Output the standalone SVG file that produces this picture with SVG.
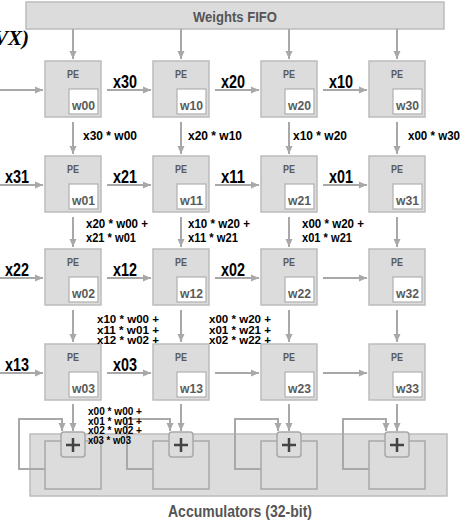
<svg xmlns="http://www.w3.org/2000/svg" width="465" height="521" viewBox="0 0 465 521">
<style>
.box{fill:#dcdcdc;stroke:#bcbcbc;stroke-width:1.5}
.inner{fill:#fff;stroke:#b0b0b0;stroke-width:1.2}
.pe{font-family:"Liberation Sans",Arial,sans-serif;font-weight:bold;font-size:11px;fill:#5a5a5a;text-anchor:middle}
.w{font-family:"Liberation Sans",Arial,sans-serif;font-weight:bold;font-size:13px;fill:#5a5a5a;text-anchor:middle}
.xl{font-family:"Liberation Sans",Arial,sans-serif;font-weight:bold;font-size:18px;fill:#000;text-anchor:middle}
.lb{font-family:"Liberation Sans",Arial,sans-serif;font-weight:bold;font-size:13px;fill:#000}
.lbt{font-family:"Liberation Sans",Arial,sans-serif;font-weight:bold;font-size:11px;fill:#000}
.lbs{font-family:"Liberation Sans",Arial,sans-serif;font-weight:bold;font-size:10px;fill:#000}
.ttl{font-family:"Liberation Sans",Arial,sans-serif;font-weight:bold;fill:#555;text-anchor:middle}
.ar{stroke:#a8a8a8;stroke-width:2;fill:none;marker-end:url(#ah)}
.plusbox{fill:#dcdcdc;stroke:#a8a8a8;stroke-width:1.5}
.plus{stroke:#444;stroke-width:2.5}
</style>
<defs>
<marker id="ah" markerUnits="userSpaceOnUse" markerWidth="9" markerHeight="8" refX="8" refY="4" orient="auto">
<path d="M0,0.5 L8,4 L0,7.5 z" fill="#a8a8a8"/>
</marker>
</defs>

<text x="29" y="45" text-anchor="end" font-family="Liberation Serif,serif" font-weight="bold" font-style="italic" font-size="21">VX)</text>

<g id="fifo">
<rect x="26" y="2" width="418" height="27" class="box"/>
<text x="235" y="22" class="ttl" font-size="15" textLength="84" lengthAdjust="spacingAndGlyphs">Weights FIFO</text>
</g>

<g id="accumulators">
<rect x="30" y="434" width="417" height="62" class="box"/>
<rect x="45" y="441" width="56" height="48" fill="none" stroke="#a8a8a8" stroke-width="1.5"/>
<rect x="153" y="441" width="56" height="48" fill="none" stroke="#a8a8a8" stroke-width="1.5"/>
<rect x="261" y="441" width="56" height="48" fill="none" stroke="#a8a8a8" stroke-width="1.5"/>
<rect x="369" y="441" width="56" height="48" fill="none" stroke="#a8a8a8" stroke-width="1.5"/>
<text x="240" y="517" class="ttl" font-size="17" textLength="144" lengthAdjust="spacingAndGlyphs">Accumulators (32-bit)</text>
</g>

<g id="connectors">
<line x1="73" y1="29" x2="73" y2="59" class="ar"/>
<line x1="181" y1="29" x2="181" y2="59" class="ar"/>
<line x1="289" y1="29" x2="289" y2="59" class="ar"/>
<line x1="397" y1="29" x2="397" y2="59" class="ar"/>
<line x1="0" y1="90" x2="43" y2="90" class="ar"/>
<line x1="107" y1="90" x2="151" y2="90" class="ar"/>
<line x1="215" y1="90" x2="259" y2="90" class="ar"/>
<line x1="323" y1="90" x2="367" y2="90" class="ar"/>
<line x1="0" y1="185" x2="43" y2="185" class="ar"/>
<line x1="107" y1="185" x2="151" y2="185" class="ar"/>
<line x1="215" y1="185" x2="259" y2="185" class="ar"/>
<line x1="323" y1="185" x2="367" y2="185" class="ar"/>
<line x1="0" y1="278" x2="43" y2="278" class="ar"/>
<line x1="107" y1="278" x2="151" y2="278" class="ar"/>
<line x1="215" y1="278" x2="259" y2="278" class="ar"/>
<line x1="323" y1="278" x2="367" y2="278" class="ar"/>
<line x1="0" y1="373" x2="43" y2="373" class="ar"/>
<line x1="107" y1="373" x2="151" y2="373" class="ar"/>
<line x1="215" y1="373" x2="259" y2="373" class="ar"/>
<line x1="323" y1="373" x2="367" y2="373" class="ar"/>
<line x1="73" y1="122" x2="73" y2="154" class="ar"/>
<line x1="181" y1="122" x2="181" y2="154" class="ar"/>
<line x1="289" y1="122" x2="289" y2="154" class="ar"/>
<line x1="397" y1="122" x2="397" y2="154" class="ar"/>
<line x1="73" y1="217" x2="73" y2="247" class="ar"/>
<line x1="181" y1="217" x2="181" y2="247" class="ar"/>
<line x1="289" y1="217" x2="289" y2="247" class="ar"/>
<line x1="397" y1="217" x2="397" y2="247" class="ar"/>
<line x1="73" y1="310" x2="73" y2="342" class="ar"/>
<line x1="181" y1="310" x2="181" y2="342" class="ar"/>
<line x1="289" y1="310" x2="289" y2="342" class="ar"/>
<line x1="397" y1="310" x2="397" y2="342" class="ar"/>
<line x1="73" y1="404" x2="73" y2="431" class="ar"/>
<line x1="181" y1="404" x2="181" y2="431" class="ar"/>
<line x1="289" y1="404" x2="289" y2="431" class="ar"/>
<line x1="397" y1="404" x2="397" y2="431" class="ar"/>
<path d="M45,469 H19 V419 H62 V431" class="ar"/>
<path d="M153,469 H127 V419 H170 V431" class="ar"/>
<path d="M261,469 H235 V419 H278 V431" class="ar"/>
<path d="M369,469 H343 V419 H386 V431" class="ar"/>
</g>

<g id="adders">
<rect x="61" y="432" width="24" height="25" rx="3" class="plusbox"/>
<path d="M66,445 H80 M73,438 V452" class="plus"/>
<rect x="169" y="432" width="24" height="25" rx="3" class="plusbox"/>
<path d="M174,445 H188 M181,438 V452" class="plus"/>
<rect x="277" y="432" width="24" height="25" rx="3" class="plusbox"/>
<path d="M282,445 H296 M289,438 V452" class="plus"/>
<rect x="385" y="432" width="24" height="25" rx="3" class="plusbox"/>
<path d="M390,445 H404 M397,438 V452" class="plus"/>
</g>

<g id="pe00"><rect x="45" y="61" width="56" height="56" class="box"/><text x="73" y="78" class="pe" textLength="12" lengthAdjust="spacingAndGlyphs">PE</text><rect x="69" y="89" width="29" height="25" class="inner"/><text x="83.5" y="110" class="w" textLength="23" lengthAdjust="spacingAndGlyphs">w00</text></g>
<g id="pe10"><rect x="153" y="61" width="56" height="56" class="box"/><text x="181" y="78" class="pe" textLength="12" lengthAdjust="spacingAndGlyphs">PE</text><rect x="177" y="89" width="29" height="25" class="inner"/><text x="191.5" y="110" class="w" textLength="23" lengthAdjust="spacingAndGlyphs">w10</text></g>
<g id="pe20"><rect x="261" y="61" width="56" height="56" class="box"/><text x="289" y="78" class="pe" textLength="12" lengthAdjust="spacingAndGlyphs">PE</text><rect x="285" y="89" width="29" height="25" class="inner"/><text x="299.5" y="110" class="w" textLength="23" lengthAdjust="spacingAndGlyphs">w20</text></g>
<g id="pe30"><rect x="369" y="61" width="56" height="56" class="box"/><text x="397" y="78" class="pe" textLength="12" lengthAdjust="spacingAndGlyphs">PE</text><rect x="393" y="89" width="29" height="25" class="inner"/><text x="407.5" y="110" class="w" textLength="23" lengthAdjust="spacingAndGlyphs">w30</text></g>
<g id="pe01"><rect x="45" y="156" width="56" height="56" class="box"/><text x="73" y="173" class="pe" textLength="12" lengthAdjust="spacingAndGlyphs">PE</text><rect x="69" y="184" width="29" height="25" class="inner"/><text x="83.5" y="205" class="w" textLength="23" lengthAdjust="spacingAndGlyphs">w01</text></g>
<g id="pe11"><rect x="153" y="156" width="56" height="56" class="box"/><text x="181" y="173" class="pe" textLength="12" lengthAdjust="spacingAndGlyphs">PE</text><rect x="177" y="184" width="29" height="25" class="inner"/><text x="191.5" y="205" class="w" textLength="23" lengthAdjust="spacingAndGlyphs">w11</text></g>
<g id="pe21"><rect x="261" y="156" width="56" height="56" class="box"/><text x="289" y="173" class="pe" textLength="12" lengthAdjust="spacingAndGlyphs">PE</text><rect x="285" y="184" width="29" height="25" class="inner"/><text x="299.5" y="205" class="w" textLength="23" lengthAdjust="spacingAndGlyphs">w21</text></g>
<g id="pe31"><rect x="369" y="156" width="56" height="56" class="box"/><text x="397" y="173" class="pe" textLength="12" lengthAdjust="spacingAndGlyphs">PE</text><rect x="393" y="184" width="29" height="25" class="inner"/><text x="407.5" y="205" class="w" textLength="23" lengthAdjust="spacingAndGlyphs">w31</text></g>
<g id="pe02"><rect x="45" y="249" width="56" height="56" class="box"/><text x="73" y="266" class="pe" textLength="12" lengthAdjust="spacingAndGlyphs">PE</text><rect x="69" y="277" width="29" height="25" class="inner"/><text x="83.5" y="298" class="w" textLength="23" lengthAdjust="spacingAndGlyphs">w02</text></g>
<g id="pe12"><rect x="153" y="249" width="56" height="56" class="box"/><text x="181" y="266" class="pe" textLength="12" lengthAdjust="spacingAndGlyphs">PE</text><rect x="177" y="277" width="29" height="25" class="inner"/><text x="191.5" y="298" class="w" textLength="23" lengthAdjust="spacingAndGlyphs">w12</text></g>
<g id="pe22"><rect x="261" y="249" width="56" height="56" class="box"/><text x="289" y="266" class="pe" textLength="12" lengthAdjust="spacingAndGlyphs">PE</text><rect x="285" y="277" width="29" height="25" class="inner"/><text x="299.5" y="298" class="w" textLength="23" lengthAdjust="spacingAndGlyphs">w22</text></g>
<g id="pe32"><rect x="369" y="249" width="56" height="56" class="box"/><text x="397" y="266" class="pe" textLength="12" lengthAdjust="spacingAndGlyphs">PE</text><rect x="393" y="277" width="29" height="25" class="inner"/><text x="407.5" y="298" class="w" textLength="23" lengthAdjust="spacingAndGlyphs">w32</text></g>
<g id="pe03"><rect x="45" y="344" width="56" height="56" class="box"/><text x="73" y="361" class="pe" textLength="12" lengthAdjust="spacingAndGlyphs">PE</text><rect x="69" y="372" width="29" height="25" class="inner"/><text x="83.5" y="393" class="w" textLength="23" lengthAdjust="spacingAndGlyphs">w03</text></g>
<g id="pe13"><rect x="153" y="344" width="56" height="56" class="box"/><text x="181" y="361" class="pe" textLength="12" lengthAdjust="spacingAndGlyphs">PE</text><rect x="177" y="372" width="29" height="25" class="inner"/><text x="191.5" y="393" class="w" textLength="23" lengthAdjust="spacingAndGlyphs">w13</text></g>
<g id="pe23"><rect x="261" y="344" width="56" height="56" class="box"/><text x="289" y="361" class="pe" textLength="12" lengthAdjust="spacingAndGlyphs">PE</text><rect x="285" y="372" width="29" height="25" class="inner"/><text x="299.5" y="393" class="w" textLength="23" lengthAdjust="spacingAndGlyphs">w23</text></g>
<g id="pe33"><rect x="369" y="344" width="56" height="56" class="box"/><text x="397" y="361" class="pe" textLength="12" lengthAdjust="spacingAndGlyphs">PE</text><rect x="393" y="372" width="29" height="25" class="inner"/><text x="407.5" y="393" class="w" textLength="23" lengthAdjust="spacingAndGlyphs">w33</text></g>

<g id="labels">
<text x="125" y="88" class="xl" textLength="24" lengthAdjust="spacingAndGlyphs">x30</text>
<text x="233" y="88" class="xl" textLength="24" lengthAdjust="spacingAndGlyphs">x20</text>
<text x="341" y="88" class="xl" textLength="24" lengthAdjust="spacingAndGlyphs">x10</text>
<text x="17" y="183" class="xl" textLength="24" lengthAdjust="spacingAndGlyphs">x31</text>
<text x="125" y="183" class="xl" textLength="24" lengthAdjust="spacingAndGlyphs">x21</text>
<text x="233" y="183" class="xl" textLength="24" lengthAdjust="spacingAndGlyphs">x11</text>
<text x="341" y="183" class="xl" textLength="24" lengthAdjust="spacingAndGlyphs">x01</text>
<text x="17" y="276" class="xl" textLength="24" lengthAdjust="spacingAndGlyphs">x22</text>
<text x="125" y="276" class="xl" textLength="24" lengthAdjust="spacingAndGlyphs">x12</text>
<text x="233" y="276" class="xl" textLength="24" lengthAdjust="spacingAndGlyphs">x02</text>
<text x="17" y="371" class="xl" textLength="24" lengthAdjust="spacingAndGlyphs">x13</text>
<text x="125" y="371" class="xl" textLength="24" lengthAdjust="spacingAndGlyphs">x03</text>

<text x="83" y="140" class="lb" textLength="54" lengthAdjust="spacingAndGlyphs">x30 * w00</text>
<text x="188" y="140" class="lb" textLength="54" lengthAdjust="spacingAndGlyphs">x20 * w10</text>
<text x="293" y="140" class="lb" textLength="54" lengthAdjust="spacingAndGlyphs">x10 * w20</text>
<text x="408" y="140" class="lb" textLength="52" lengthAdjust="spacingAndGlyphs">x00 * w30</text>

<text x="86" y="228" class="lb" textLength="62" lengthAdjust="spacingAndGlyphs">x20 * w00 +</text>
<text x="86" y="242" class="lb" textLength="50" lengthAdjust="spacingAndGlyphs">x21 * w01</text>
<text x="188" y="228" class="lb" textLength="62" lengthAdjust="spacingAndGlyphs">x10 * w20 +</text>
<text x="188" y="242" class="lb" textLength="50" lengthAdjust="spacingAndGlyphs">x11 * w21</text>
<text x="302" y="228" class="lb" textLength="62" lengthAdjust="spacingAndGlyphs">x00 * w20 +</text>
<text x="302" y="242" class="lb" textLength="50" lengthAdjust="spacingAndGlyphs">x01 * w21</text>

<text x="97" y="323" class="lbt" textLength="62" lengthAdjust="spacingAndGlyphs">x10 * w00 +</text>
<text x="97" y="333.5" class="lbt" textLength="62" lengthAdjust="spacingAndGlyphs">x11 * w01 +</text>
<text x="97" y="344" class="lbt" textLength="62" lengthAdjust="spacingAndGlyphs">x12 * w02 +</text>
<text x="209" y="323" class="lbt" textLength="62" lengthAdjust="spacingAndGlyphs">x00 * w20 +</text>
<text x="209" y="333.5" class="lbt" textLength="62" lengthAdjust="spacingAndGlyphs">x01 * w21 +</text>
<text x="209" y="344" class="lbt" textLength="62" lengthAdjust="spacingAndGlyphs">x02 * w22 +</text>

<text x="88" y="415" class="lbs" textLength="54" lengthAdjust="spacingAndGlyphs">x00 * w00 +</text>
<text x="88" y="424.5" class="lbs" textLength="54" lengthAdjust="spacingAndGlyphs">x01 * w01 +</text>
<text x="88" y="434" class="lbs" textLength="54" lengthAdjust="spacingAndGlyphs">x02 * w02 +</text>
<text x="88" y="443.5" class="lbs" textLength="43" lengthAdjust="spacingAndGlyphs">x03 * w03</text>
</g>
</svg>
